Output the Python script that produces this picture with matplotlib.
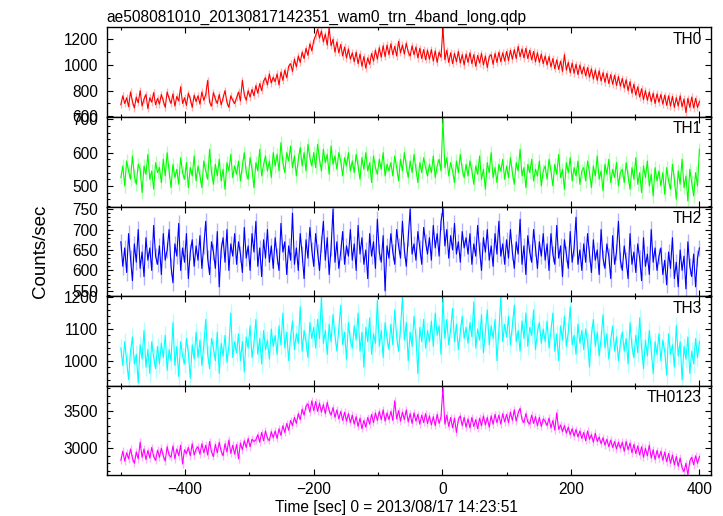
import numpy as np
import matplotlib
matplotlib.use("Agg")
import matplotlib.pyplot as plt
from matplotlib.ticker import MultipleLocator

plt.rcParams['font.family'] = ['Liberation Sans', 'DejaVu Sans']

# time bins (sec), 3 s wide, 0 = 2013/08/17 14:23:51
t_start = -500
t_stop = 400
t_step = 3

# count rates, one row = 60 s
th0 = [
    690, 760, 700, 745, 675, 790, 715, 665, 750, 705, 800, 680, 735, 770, 660, 745, 710, 785, 690, 740,
    695, 770, 720, 670, 790, 740, 700, 775, 680, 755, 720, 830, 700, 745, 685, 780, 735, 670, 765, 715,
    760, 695, 790, 725, 770, 880, 710, 680, 785, 735, 700, 770, 690, 745, 800, 710, 670, 760, 725, 700,
    745, 790, 720, 880, 770, 725, 800, 750, 810, 760, 840, 780, 855, 800, 875, 900, 845, 930, 860, 905,
    870, 930, 845, 945, 880, 960, 900, 990, 1010, 950, 1045, 985, 1070, 1020, 1100, 1050, 1130, 1075, 1165, 1110,
    1190, 1230, 1280, 1210, 1265, 1180, 1240, 1155, 1290, 1150, 1200, 1100, 1180, 1095, 1160, 1070, 1140, 1055, 1125, 1045,
    1095, 1025, 1100, 1010, 1085, 990, 1065, 975, 1055, 1005, 1090, 1030, 1115, 1045, 1135, 1060, 1150, 1065, 1155, 1080,
    1165, 1080, 1145, 1070, 1185, 1095, 1155, 1085, 1170, 1100, 1070, 1150, 1080, 1140, 1055, 1130, 1050, 1120, 1040, 1115,
    1045, 1120, 1030, 1110, 1020, 1100, 1060, 1290, 1040, 1115, 1020, 1095, 1010, 1090, 1025, 1105, 1015, 1080, 1000, 1085,
    1020, 1095, 1010, 1080, 990, 1075, 1015, 1090, 1000, 1070, 980, 1065, 1080, 1005, 1090, 1020, 1100, 1025, 1095, 1030,
    1105, 1035, 1115, 1045, 1120, 1050, 1145, 1065, 1125, 1055, 1130, 1050, 1115, 1040, 1105, 1025, 1095, 1020, 1085, 1010,
    1070, 1000, 1065, 985, 1050, 970, 1040, 965, 1030, 950, 1080, 960, 1020, 940, 1015, 935, 1005, 925, 1000, 930,
    985, 915, 980, 905, 970, 890, 960, 880, 955, 875, 940, 865, 935, 855, 925, 850, 920, 840, 910, 835,
    895, 820, 885, 800, 870, 780, 850, 765, 830, 750, 815, 730, 800, 725, 790, 715, 780, 700, 775, 710,
    770, 695, 765, 685, 760, 680, 755, 670, 745, 680, 760, 675, 735, 630, 740, 670, 750, 665, 740, 670,
    715]

th1 = [
    525, 560, 500, 575, 545, 520, 590, 530, 505, 565, 550, 480, 560, 535, 595, 520, 545, 490, 570, 540,
    555, 510, 580, 530, 600, 545, 495, 565, 525, 550, 505, 585, 540, 520, 570, 495, 555, 530, 590, 515,
    560, 530, 495, 575, 545, 520, 610, 540, 505, 565, 530, 580, 515, 550, 490, 570, 545, 595, 525, 560,
    535, 575, 515, 560, 600, 540, 520, 585, 550, 495, 570, 545, 610, 530, 565, 590, 545, 575, 525, 600,
    560, 595, 545, 630, 570, 540, 600, 575, 620, 555, 590, 530, 580, 615, 560, 600, 545, 625, 585, 560,
    600, 555, 625, 580, 545, 610, 570, 595, 535, 620, 565, 590, 550, 600, 575, 530, 585, 560, 600, 545,
    575, 540, 595, 560, 520, 585, 550, 600, 545, 570, 510, 590, 555, 535, 580, 550, 600, 530, 565, 545,
    570, 530, 590, 555, 515, 580, 545, 600, 560, 525, 575, 540, 595, 550, 510, 570, 540, 585, 555, 530,
    565, 540, 590, 525, 560, 580, 545, 700, 555, 585, 530, 570, 545, 510, 575, 540, 595, 550, 525, 565,
    530, 575, 545, 505, 560, 535, 590, 520, 550, 490, 570, 540, 600, 525, 555, 510, 565, 545, 580, 520,
    560, 525, 585, 540, 505, 570, 545, 610, 530, 555, 495, 565, 540, 580, 515, 550, 530, 575, 500, 545,
    560, 520, 580, 545, 500, 565, 535, 595, 525, 550, 490, 570, 540, 585, 515, 555, 530, 575, 505, 545,
    555, 515, 575, 540, 495, 560, 530, 590, 520, 545, 485, 565, 535, 580, 510, 550, 525, 570, 500, 540,
    550, 510, 570, 530, 490, 555, 520, 585, 505, 540, 480, 560, 525, 575, 500, 535, 470, 555, 515, 545,
    500, 540, 475, 555, 515, 490, 565, 520, 460, 545, 505, 580, 495, 530, 455, 550, 510, 470, 540, 500,
    610]

th2 = [
    670, 610, 655, 595, 690, 630, 575, 665, 620, 700, 605, 645, 585, 680, 625, 655, 600, 710, 635, 615,
    660, 590, 690, 625, 650, 700, 610, 570, 665, 635, 715, 600, 655, 620, 690, 580, 645, 675, 610, 660,
    625, 685, 605, 660, 720, 630, 590, 670, 645, 605, 695, 560, 650, 680, 620, 700, 600, 665, 635, 690,
    615, 670, 640, 595, 705, 630, 660, 600, 690, 645, 720, 610, 655, 585, 675, 630, 700, 620, 660, 605,
    680, 635, 600, 715, 645, 670, 590, 660, 625, 740, 615, 655, 600, 690, 640, 580, 675, 630, 705, 650,
    610, 690, 645, 600, 665, 720, 625, 680, 590, 655, 750, 620, 670, 605, 645, 695, 615, 660, 635, 700,
    625, 665, 600, 710, 640, 680, 615, 650, 580, 690, 635, 670, 605, 725, 645, 620, 685, 550, 660, 630,
    690, 645, 615, 700, 660, 630, 720, 650, 610, 680, 750, 640, 665, 625, 695, 655, 615, 705, 670, 640,
    680, 625, 710, 655, 690, 635, 720, 750, 660, 700, 630, 685, 650, 715, 640, 670, 620, 695, 655, 680,
    640, 690, 615, 665, 635, 710, 650, 600, 680, 645, 700, 625, 660, 610, 690, 640, 720, 635, 665, 615,
    675, 630, 700, 645, 605, 670, 640, 725, 615, 660, 590, 685, 645, 620, 700, 655, 605, 670, 635, 690,
    625, 665, 600, 690, 640, 615, 710, 630, 660, 585, 675, 640, 605, 695, 620, 655, 730, 615, 650, 600,
    665, 620, 690, 640, 595, 675, 625, 650, 590, 700, 630, 605, 665, 635, 580, 685, 615, 645, 720, 625,
    600, 660, 625, 580, 690, 615, 645, 595, 665, 630, 575, 680, 610, 640, 590, 700, 620, 655, 600, 635,
    655, 590, 625, 565, 645, 605, 680, 580, 620, 560, 650, 600, 635, 555, 670, 610, 585, 640, 560, 630,
    655]

th3 = [
    1040, 985, 1060, 1000, 940, 1030, 1075, 990, 1020, 930, 1050, 1005, 1095, 980, 1035, 960, 1060, 1010, 975, 1045,
    990, 1055, 1010, 1080, 970, 1035, 1000, 1120, 985, 1045, 950, 1060, 1015, 990, 1070, 1025, 945, 1050, 1005, 1090,
    1010, 1065, 985, 1050, 1130, 1020, 975, 1070, 1040, 1000, 1090, 960, 1055, 1015, 1080, 995, 1045, 1150, 1010, 1060,
    1025, 1085, 1000, 1060, 965, 1075, 1040, 1110, 1010, 1055, 1130, 1020, 1070, 990, 1095, 1035, 1065, 1005, 1100, 1045,
    1080, 1020, 1110, 1050, 1150, 1040, 1090, 1000, 1075, 1125, 1035, 1085, 1055, 1170, 1030, 1095, 1060, 1010, 1120, 1070,
    1105, 1040, 1130, 1070, 1200, 1055, 1095, 1020, 1115, 1060, 1145, 1080, 1030, 1100, 1175, 1050, 1090, 1005, 1120, 1065,
    1040, 1110, 1065, 1150, 1030, 1090, 980, 1105, 1060, 1135, 1020, 1085, 1055, 1190, 1045, 1095, 1010, 1120, 1070, 1035,
    1115, 1050, 1160, 1075, 1030, 1100, 1200, 1065, 1120, 1000, 1090, 1045, 1140, 1075, 960, 1105, 1060, 1130, 1040, 1095,
    1060, 1125, 1045, 1150, 1080, 1110, 1020, 1195, 1070, 1130, 1050, 1100, 1165, 1060, 1115, 1035, 1090, 1140, 1070, 1105,
    1055, 1120, 1075, 1185, 1040, 1100, 1065, 1145, 1025, 1090, 1160, 1050, 1110, 1070, 1130, 1000, 1095, 1200, 1060, 1115,
    1075, 1140, 1050, 1110, 1175, 1060, 1095, 1030, 1125, 1070, 1150, 1045, 1105, 1080, 1160, 1035, 1090, 1120, 1055, 1100,
    1060, 1125, 1040, 1095, 1150, 1030, 1085, 1000, 1110, 1065, 1140, 1045, 1090, 1170, 1050, 1080, 1020, 1115, 1055, 1095,
    1035, 1100, 1060, 980, 1080, 1130, 1045, 1090, 1015, 1070, 1145, 1040, 1085, 1005, 1065, 1110, 1030, 1075, 1000, 1055,
    1090, 1030, 1070, 990, 1120, 1045, 1010, 1080, 1025, 1135, 1040, 975, 1065, 1015, 1095, 1035, 960, 1060, 1020, 1085,
    1000, 1065, 1030, 955, 1085, 1020, 1050, 980, 1110, 1015, 1060, 940, 1045, 1005, 1075, 960, 1030, 990, 1070, 1010,
    1060]

th0123 = [
    2840, 2960, 2830, 2940, 2860, 2990, 2870, 2800, 2950, 2860, 3080, 2880, 2990, 2850, 2970, 2870, 3010, 2890, 2840, 2975,
    2880, 3000, 2900, 2830, 3020, 2910, 2880, 3030, 2860, 2990, 2900, 3040, 2790, 2980, 2930, 3010, 2900, 3060, 2910, 2990,
    3020, 2920, 3060, 2940, 3040, 2910, 3090, 2950, 2890, 3050, 2940, 3080, 2960, 2900, 3060, 2950, 3110, 2930, 3040, 2920,
    3050, 2860, 3070, 2980, 3100, 3010, 3130, 3020, 3120, 3090, 3110, 3180, 3080, 3210, 3100, 3230, 3130, 3100, 3220, 3140,
    3230, 3130, 3260, 3170, 3300, 3210, 3330, 3240, 3370, 3300, 3410, 3330, 3460, 3380, 3520, 3440, 3560, 3590, 3480, 3630,
    3500, 3620, 3490, 3600, 3480, 3580, 3460, 3610, 3500, 3440, 3540, 3410, 3510, 3390, 3490, 3370, 3480, 3360, 3460, 3340,
    3440, 3320, 3420, 3290, 3400, 3260, 3370, 3280, 3410, 3320, 3450, 3340, 3470, 3370, 3490, 3380, 3510, 3360, 3470, 3380,
    3490, 3370, 3630, 3390, 3500, 3360, 3480, 3380, 3510, 3350, 3460, 3330, 3470, 3360, 3450, 3320, 3440, 3340, 3460, 3330,
    3430, 3310, 3420, 3300, 3450, 3330, 3420, 3800, 3320, 3440, 3290, 3410, 3270, 3400, 3210, 3380, 3430, 3300, 3410, 3280,
    3390, 3270, 3410, 3290, 3380, 3260, 3400, 3300, 3430, 3310, 3410, 3280, 3430, 3320, 3450, 3340, 3440, 3320, 3460, 3350,
    3450, 3340, 3480, 3370, 3510, 3360, 3470, 3530, 3380, 3340, 3460, 3350, 3320, 3440, 3330, 3420, 3300, 3410, 3290, 3390,
    3360, 3300, 3400, 3270, 3370, 3240, 3470, 3250, 3310, 3220, 3300, 3200, 3280, 3180, 3260, 3160, 3250, 3150, 3230, 3130,
    3210, 3100, 3230, 3120, 3180, 3080, 3200, 3090, 3150, 3060, 3140, 3040, 3120, 3020, 3110, 3010, 3090, 2990, 3080, 3000,
    3080, 2960, 3090, 2980, 3070, 2940, 3050, 2930, 3030, 2910, 3020, 2880, 3000, 2900, 3040, 2870, 2980, 2850, 2970, 2870,
    2960, 2840, 2950, 2820, 2930, 2800, 2910, 2780, 2890, 2760, 2870, 2740, 2690, 2800, 2650, 2830, 2880, 2780, 2900, 2800,
    2890]

# rough 1-sigma error per bin for each band
errors = [28, 20, 20, 28, 50]

names = ["TH0", "TH1", "TH2", "TH3", "TH0123"]
colors = ["#ff0000", "#00ff00", "#0000ff", "#00ffff", "#ff00ff"]
ylims = [(595, 1293), (438, 707), (537, 756), (921, 1203), (2638, 3829)]
major = [200, 100, 50, 100, 500]
minor = [100, 20, 10, 20, 100]

title = "ae508081010_20130817142351_wam0_trn_4band_long.qdp"
fs = 11.2

t = np.arange(t_start, t_stop + 1, t_step)
series = [th0, th1, th2, th3, th0123]

fig, axes = plt.subplots(5, 1, sharex=True, figsize=(7.23, 5.16), dpi=100)
fig.subplots_adjust(left=0.1476, right=0.9834, top=0.947, bottom=0.0785, hspace=0)

for i, ax in enumerate(axes):
    y = np.array(series[i])
    ax.errorbar(t, y, yerr=errors[i], fmt='none', ecolor=colors[i], alpha=0.3, elinewidth=1.0)
    ax.plot(t, y, color=colors[i], lw=0.8)
    ax.set_xlim(-522, 418)
    ax.set_ylim(ylims[i])
    ax.yaxis.set_major_locator(MultipleLocator(major[i]))
    ax.yaxis.set_minor_locator(MultipleLocator(minor[i]))
    ax.xaxis.set_major_locator(MultipleLocator(200))
    ax.xaxis.set_minor_locator(MultipleLocator(100))
    ax.tick_params(which='both', direction='in', top=True, right=True, labelsize=fs, pad=6)
    ax.tick_params(which='major', length=4.5, width=0.8)
    ax.tick_params(which='minor', length=2.5, width=0.8)
    ax.text(0.985, 0.95, names[i], transform=ax.transAxes, ha='right', va='top', fontsize=fs)
    for s in ax.spines.values():
        s.set_linewidth(1.0)

axes[0].set_title(title, loc='left', fontsize=fs, pad=4)
axes[-1].tick_params(axis='x', pad=5)

fig.text(0.056, 0.513, "Counts/sec", rotation=90, ha='center', va='center', fontsize=13.5)
fig.text(0.548, 0.017, "Time [sec] 0 = 2013/08/17 14:23:51", ha='center', va='center', fontsize=fs)

fig.savefig("out.png", dpi=100)
